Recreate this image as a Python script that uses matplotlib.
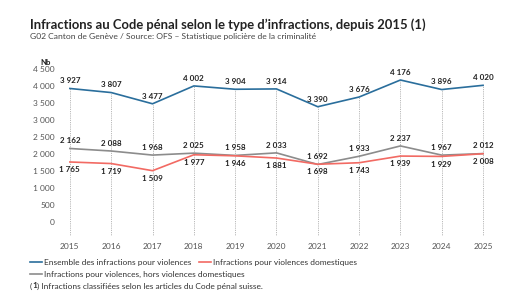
import matplotlib.pyplot as plt
from matplotlib.lines import Line2D

years = [2015, 2016, 2017, 2018, 2019, 2020, 2021, 2022, 2023, 2024, 2025]
ensemble = [3927, 3807, 3477, 4002, 3904, 3914, 3390, 3676, 4176, 3896, 4020]
domestiques = [1765, 1719, 1509, 1977, 1946, 1881, 1698, 1743, 1939, 1929, 2008]
hors_dom = [2162, 2088, 1968, 2025, 1958, 2033, 1692, 1933, 2237, 1967, 2012]
yticks = [0, 500, 1000, 1500, 2000, 2500, 3000, 3500, 4000, 4500]

BLUE = '#2a6e9c'
RED = '#f26a63'
GREY = '#8c8c8c'
TXT = '#222222'

plt.rcParams['font.family'] = ['Lato', 'DejaVu Sans']


def fmt(v):
    return f'{v:,}'.replace(',', ' ')


fig = plt.figure(figsize=(5.27, 2.97), dpi=100)
ax = fig.add_axes([55 / 527, 1 - 236 / 297, 445 / 527, 172 / 297])

ax.set_xlim(2014.64, 2025.41)
ax.set_ylim(-412, 4647)

ax.vlines(years, -412, ensemble, colors='#a0a0a0', linestyles=(0, (1, 1.2)), linewidth=0.6, zorder=1)

ax.plot(years, ensemble, color=BLUE, linewidth=1.2, zorder=3)
ax.plot(years, hors_dom, color=GREY, linewidth=1.2, zorder=3)
ax.plot(years, domestiques, color=RED, linewidth=1.2, zorder=3)

lab = dict(fontsize=5.8, fontweight='bold', color=TXT, ha='center')
for x, v in zip(years, ensemble):
    ax.annotate(fmt(v), (x, v), xytext=(0, 3), textcoords='offset points', va='bottom', **lab)
for x, v in zip(years, hors_dom):
    ax.annotate(fmt(v), (x, v), xytext=(0, 3), textcoords='offset points', va='bottom', **lab)
for x, v in zip(years, domestiques):
    ax.annotate(fmt(v), (x, v), xytext=(0, -3), textcoords='offset points', va='top', **lab)

ax.set_yticks(yticks)
ax.set_yticklabels([fmt(v) for v in yticks])
ax.set_xticks(years)
ax.tick_params(axis='both', length=0, labelsize=6, colors='#555555')
ax.tick_params(axis='x', pad=5)
ax.tick_params(axis='y', pad=0)
for s in ax.spines.values():
    s.set_visible(False)

ax.text(-0.01, 0.99, 'Nb', transform=ax.transAxes, fontsize=5.6, fontweight='bold',
        color=TXT, ha='right', va='bottom')

fig.text(30 / 527, 1 - 25 / 297, 'Infractions au Code pénal selon le type d\u2019infractions, depuis 2015 (1)',
         fontsize=9.4, fontweight='bold', color=TXT, va='center')
fig.text(30 / 527, 1 - 36 / 297, 'G02 Canton de Genève / Source: OFS \u2013 Statistique policière de la criminalité',
         fontsize=6.1, color='#444444', va='center')

# legend
items = [(BLUE, 'Ensemble des infractions pour violences', 30, 262),
         (RED, 'Infractions pour violences domestiques', 199, 262),
         (GREY, 'Infractions pour violences, hors violences domestiques', 30, 274)]
for c, t, x0, y0 in items:
    yf = 1 - y0 / 297
    fig.add_artist(Line2D([x0 / 527, (x0 + 12) / 527], [yf, yf], color=c, linewidth=1.2,
                          transform=fig.transFigure))
    fig.text((x0 + 14) / 527, yf, t, fontsize=6, color='#333333', va='center')

# footnote with bold "1", pieces placed one after another
yf = 1 - 286 / 297
parts = [('(', 'normal'), ('1', 'bold'),
         (') Infractions classifiées selon les articles du Code pénal suisse.', 'normal')]
renderer = fig.canvas.get_renderer()
xpos = 30 / 527
for s, w in parts:
    t = fig.text(xpos, yf, s, fontsize=6, fontweight=w, color='#333333', va='center')
    bb = t.get_window_extent(renderer)
    xpos += bb.width / fig.bbox.width

fig.savefig('out.png', dpi=100)
